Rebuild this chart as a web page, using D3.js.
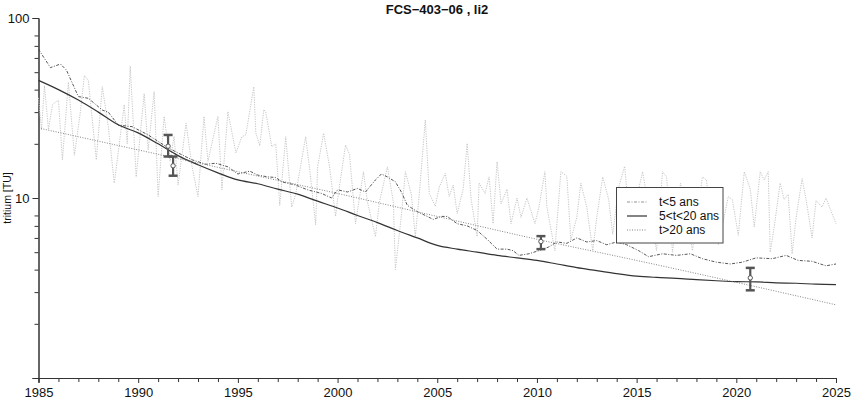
<!DOCTYPE html>
<html>
<head>
<meta charset="utf-8">
<script src="https://cdn.jsdelivr.net/npm/d3@7"></script>
<style>
  body { margin: 0; background: #fff; }
  text { font-family: "Liberation Sans", Arial, Helvetica, sans-serif; }
</style>
</head>
<body>
<svg id="chart" width="851" height="404"></svg>
<script>
// ---- data ----
var title = 'FCS\u2212403\u221206 , li2';
var yLabel = 'tritium [TU]';

var xTicks = [1985, 1990, 1995, 2000, 2005, 2010, 2015, 2020, 2025];
var yTicks = [10, 100];

// light grey input curve (year, TU)
var input = [
  [1985.0,36],[1985.15,24],[1985.3,42],[1985.5,24],[1985.7,33],[1986.0,35],[1986.2,16.3],
  [1986.5,44],[1986.8,17.3],[1987.1,30],[1987.3,48],[1987.5,45],[1987.9,16.3],[1988.2,41.5],
  [1988.5,25],[1988.8,12.1],[1989.1,22],[1989.3,33],[1989.45,20],[1989.6,54],[1989.9,13.1],
  [1990.3,38],[1990.5,18.5],[1990.8,39],[1991.0,10.2],[1991.3,28.4],[1991.6,16],[1991.8,22],
  [1992.0,11.8],[1992.4,26],[1992.7,15],[1993.0,10.2],[1993.3,28.4],[1993.5,16],[1994.0,28.4],
  [1994.2,11.1],[1994.5,30.2],[1994.9,17.8],[1995.2,21.9],[1995.4,22.5],[1995.8,41.5],[1995.9,23],
  [1996.1,19.5],[1996.3,31],[1996.4,30],[1996.7,19.3],[1996.9,20],[1997.1,9.1],[1997.4,21.9],
  [1997.7,8.9],[1997.9,10.5],[1998.4,21.9],[1998.6,14.5],[1998.9,7.1],[1999.0,14.9],[1999.3,22.9],
  [1999.6,14.9],[1999.9,7.9],[2000.0,9.8],[2000.4,19.7],[2000.6,17.5],[2000.9,7.2],[2001.3,14],
  [2001.5,9.5],[2001.9,6.1],[2002.1,9.5],[2002.5,14.9],[2002.8,9.5],[2002.9,4.0],[2003.2,8.0],
  [2003.4,14],[2003.7,10.5],[2003.9,6.1],[2004.1,10.5],[2004.4,27.1],[2004.6,10.6],[2004.9,9.0],
  [2005.1,11.5],[2005.4,13.7],[2005.6,10.2],[2005.8,11.8],[2006.0,8.2],[2006.3,11.2],[2006.5,20.1],
  [2006.7,9.8],[2007.0,6.1],[2007.1,12.1],[2007.4,10.6],[2007.6,13.1],[2007.8,7.2],[2008.0,15.9],
  [2008.2,9.3],[2008.5,11.2],[2008.7,7.2],[2009.0,10],[2009.2,7.8],[2009.5,10],[2009.9,7.2],
  [2010.1,8.9],[2010.4,14],[2010.5,8.9],[2010.9,5.1],[2011.2,14],[2011.5,13.2],[2011.7,5.85],
  [2012.0,7.8],[2012.2,12.1],[2012.5,8.9],[2012.8,5.1],[2013.0,7.8],[2013.3,13.1],[2013.6,9.8],
  [2013.8,6.3],[2014.1,11.5],[2014.4,15],[2014.7,6.5],[2015.0,10],[2015.3,14],[2015.6,9],
  [2016.0,5.1],[2016.3,14],[2016.5,13.1],[2016.8,5.0],[2017.2,12.1],[2017.5,8],[2017.8,5.1],
  [2018.3,13.1],[2018.5,12.6],[2018.8,7],[2019.1,5.5],[2019.6,10.2],[2019.8,9.8],[2020.1,6.2],
  [2020.4,14],[2020.7,11.2],[2020.9,6.9],[2021.2,14],[2021.4,12.6],[2021.6,14],[2021.7,5.0],
  [2021.9,6.9],[2022.2,12.1],[2022.4,9.8],[2022.6,10.5],[2022.8,4.9],[2023.0,7.8],[2023.3,12.8],
  [2023.5,9.8],[2023.8,6.0],[2024.0,9.7],[2024.3,8.9],[2024.5,10],[2024.8,8.2],[2025.0,7.2]
];

// t<5 ans
var young = [
  [1985.0,67],[1985.6,53],[1986.1,55.5],[1986.4,51.4],[1987.0,36.6],[1987.5,35.8],[1988.2,30.8],
  [1988.5,30],[1989.0,25.4],[1989.7,24.9],[1990.5,22.4],[1991.5,19],[1992.0,17.8],[1992.7,16.3],
  [1993.4,15.4],[1993.9,15.6],[1994.5,14.9],[1995.0,13.6],[1995.6,14.1],[1996.0,13.4],[1996.5,13.1],
  [1996.9,13.0],[1997.2,12.3],[1997.9,11.8],[1998.5,11.1],[1999.2,10.6],[1999.7,10.0],[2000.0,11.1],
  [2000.5,10.8],[2001.0,11.3],[2001.4,10.8],[2001.9,12.6],[2002.2,13.6],[2002.5,13.1],[2002.9,12.3],
  [2003.2,10.8],[2003.5,9.1],[2004.0,8.4],[2004.5,7.9],[2004.8,7.6],[2005.2,7.9],[2005.5,7.9],
  [2006.0,7.2],[2006.5,7.0],[2007.0,6.6],[2007.5,5.9],[2008.0,5.2],[2008.5,5.2],[2008.8,5.1],
  [2009.1,4.8],[2009.6,4.9],[2010.1,5.1],[2010.6,5.35],[2011.0,5.7],[2011.5,5.6],[2012.0,6.0],
  [2012.5,5.7],[2013.0,5.8],[2013.5,5.5],[2014.0,5.7],[2014.5,5.5],[2015.1,5.1],[2015.6,4.72],
  [2016.3,4.9],[2017.0,4.8],[2017.7,4.9],[2018.3,4.6],[2019.0,4.4],[2019.7,4.3],[2020.3,4.4],
  [2021.0,4.65],[2021.8,4.6],[2022.5,4.8],[2023.1,4.5],[2023.8,4.45],[2024.5,4.2],[2025.0,4.3]
];

// 5<t<20 ans
var middle = [
  [1985,45],[1986,40],[1987,35],[1988,30],[1989,25.5],[1990,23],[1991,20],[1992,17.2],[1993,15.3],
  [1994,13.8],[1995,12.6],[1996,12.0],[1997,11.2],[1998,10.5],[1999,9.6],[2000,8.8],[2001,8.0],
  [2002,7.3],[2003,6.6],[2004,6.0],[2005,5.45],[2006,5.2],[2007,5.0],[2008,4.8],[2009,4.65],
  [2010,4.5],[2011,4.3],[2012,4.1],[2013,3.95],[2014,3.8],[2015,3.68],[2016,3.62],[2017,3.58],
  [2018,3.52],[2019,3.47],[2020,3.43],[2021,3.42],[2022,3.38],[2023,3.36],[2024,3.32],[2025,3.3]
];

// t>20 ans
var old = [
  [1985,24.5],[1990,18.5],[1995,14.0],[2000,10.6],[2005,7.9],[2010,5.9],[2015,4.5],[2020,3.4],[2025,2.55]
];

// measurements: year, value, low, high
var measures = [
  [1991.5, 19.4, 17.0, 22.4],
  [1991.75, 15.1, 13.3, 17.0],
  [2010.2, 5.73, 5.2, 6.14],
  [2020.7, 3.6, 3.07, 4.09]
];

var legendNames = ['t<5 ans', '5<t<20 ans', 't>20 ans'];

// ---- layout ----
var svg = d3.select('#chart');
var plotL = 38.5, plotR = 836, plotT = 18, plotB = 378;

var x = d3.scaleLinear().domain([1985, 2025]).range([plotL, plotR]);
var y = d3.scaleLog().domain([1, 100]).range([plotB, plotT]);

var axisColor = '#333';

// axes
var minorY = [];
[1, 10].forEach(function(d){ for (var k = 2; k <= 8; k++) minorY.push(d * k); });
var minorX = d3.range(1985, 2026).filter(function(d){ return d % 5 !== 0; });

var gy = svg.append('g').attr('transform', 'translate(' + plotL + ',0)');
gy.append('g').call(d3.axisLeft(y).tickValues(minorY).tickSize(4).tickFormat(''));
gy.append('g').call(d3.axisLeft(y).tickValues([1].concat(yTicks)).tickSize(6).tickFormat(function(d){ return d === 1 ? '' : d; }));

var gx = svg.append('g').attr('transform', 'translate(0,' + plotB + ')');
gx.append('g').call(d3.axisBottom(x).tickValues(minorX).tickSize(4).tickFormat(''));
gx.append('g').call(d3.axisBottom(x).tickValues(xTicks).tickSize(5).tickFormat(d3.format('d')));

svg.selectAll('.domain').attr('stroke', axisColor);
svg.selectAll('.tick line').attr('stroke', axisColor);
svg.selectAll('.tick text').attr('fill', '#111').style('font-size', '13px')
   .style('font-family', '"Liberation Sans", Arial, sans-serif');
gx.selectAll('.tick text').attr('dy', '0.85em');

// title and y label
svg.append('text').attr('x', 437).attr('y', 14).attr('text-anchor', 'middle')
   .style('font-size', '13px').style('font-weight', 'bold').attr('fill', '#111').text(title);
svg.append('text').attr('transform', 'translate(11,198) rotate(-90)').attr('text-anchor', 'middle')
   .style('font-size', '10.5px').attr('fill', '#111').text(yLabel);

// lines
var line = d3.line().x(function(d){ return x(d[0]); }).y(function(d){ return y(d[1]); });
var smooth = d3.line().curve(d3.curveMonotoneX).x(function(d){ return x(d[0]); }).y(function(d){ return y(d[1]); });

var styles = [
  { color: '#444', width: 0.9, dash: '3,1.5,1,1.5' },
  { color: '#333', width: 1.2, dash: null },
  { color: '#777', width: 0.9, dash: '1,1.5' }
];

svg.append('path').datum(input).attr('d', line).attr('fill', 'none')
   .attr('stroke', '#c6c6c6').attr('stroke-width', 1).attr('stroke-dasharray', '1.2,1.2');

[young, middle, old].forEach(function(s, i){
  svg.append('path').datum(s).attr('d', i === 0 ? line : smooth).attr('fill', 'none')
     .attr('stroke', styles[i].color).attr('stroke-width', styles[i].width)
     .attr('stroke-dasharray', styles[i].dash);
});

// error bars
var eb = svg.append('g').attr('stroke', '#555').attr('fill', 'none');
measures.forEach(function(m){
  var cx = x(m[0]);
  eb.append('line').attr('x1', cx).attr('x2', cx).attr('y1', y(m[2])).attr('y2', y(m[3])).attr('stroke-width', 2.2);
  [m[2], m[3]].forEach(function(v){
    eb.append('line').attr('x1', cx - 4.5).attr('x2', cx + 4.5).attr('y1', y(v)).attr('y2', y(v)).attr('stroke-width', 2.5);
  });
  eb.append('circle').attr('cx', cx).attr('cy', y(m[1])).attr('r', 2.2).attr('fill', '#fff').attr('stroke-width', 1);
});

// legend
var lg = svg.append('g');
lg.append('rect').attr('x', 616.5).attr('y', 187.5).attr('width', 106.5).attr('height', 55.5)
  .attr('fill', '#fff').attr('stroke', '#444').attr('stroke-width', 1);
var rowsY = [202, 216, 230];
legendNames.forEach(function(name, i){
  lg.append('line').attr('x1', 627).attr('x2', 647).attr('y1', rowsY[i]).attr('y2', rowsY[i])
    .attr('stroke', i === 0 ? '#888' : styles[i].color).attr('stroke-width', styles[i].width)
    .attr('stroke-dasharray', styles[i].dash);
  lg.append('text').attr('x', 659).attr('y', rowsY[i] + 4.3).style('font-size', '12px')
    .attr('fill', '#111').text(name);
});
</script>
</body>
</html>
